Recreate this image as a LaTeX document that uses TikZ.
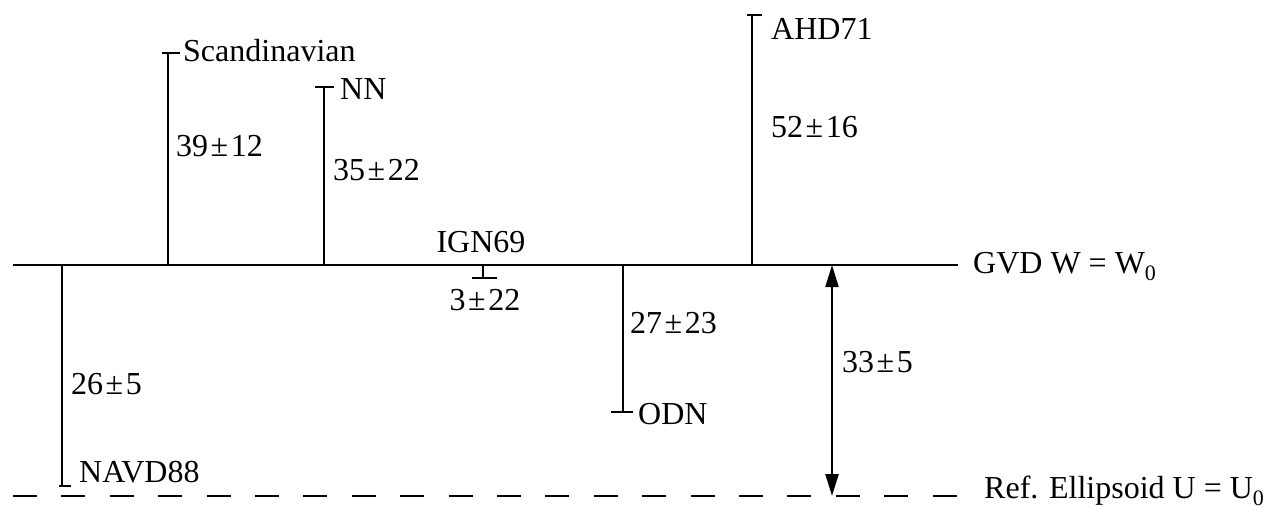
\documentclass[tikz,border=0pt]{standalone}
\usepackage{fontspec}
\setmainfont{Liberation Serif}
\usetikzlibrary{arrows.meta}
\newcommand{\lowsub}[1]{\raisebox{-7pt}{\fontsize{22}{22}\selectfont #1}}
\newcommand{\pmv}{\kern2.5pt±\kern2.5pt}
\begin{document}
\begin{tikzpicture}[x=1pt,y=-1pt,
  lbl/.style={font=\fontsize{32}{38}\selectfont, inner sep=0pt, anchor=base west},
  clbl/.style={font=\fontsize{32}{38}\selectfont, inner sep=0pt, anchor=base},
  level/.style={line width=2.8pt},
  bar/.style={line width=2.4pt},
  tickmark/.style={line width=2.8pt},
  dim/.style={line width=2.4pt, {Triangle[length=22pt,width=13pt]}-{Triangle[length=22pt,width=13pt]}}]
\useasboundingbox (0,0) rectangle (1268,515);

% reference levels
\coordinate (gl) at (13,265); \coordinate (gr) at (958,265);
\coordinate (el) at (13,496); \coordinate (er) at (958,496);
\draw[level] (gl) -- (gr);
\draw[level, dash pattern=on 24pt off 24.4pt] (el) -- (er);
\node[lbl] (gvd) at (973,273) {GVD W = W\lowsub{0}};
\node[lbl] (ref) at (984,498) {Ref. Ellipsoid U = U\lowsub{0}};

% Scandinavian
\coordinate (s0) at (168,265); \coordinate (s1) at (168,53);
\coordinate (s1a) at (162,53); \coordinate (s1b) at (180,53);
\draw[bar] (s0) -- (s1);
\draw[tickmark] (s1a) -- (s1b);
\node[lbl] (scand) at (183,61) {Scandinavian};
\node[lbl] (scandv) at (176,156) {39\pmv12};

% NN
\coordinate (n0) at (324,265); \coordinate (n1) at (324,87);
\coordinate (n1a) at (315,87); \coordinate (n1b) at (334,87);
\draw[bar] (n0) -- (n1);
\draw[tickmark] (n1a) -- (n1b);
\node[lbl] (nn) at (340,99) {NN};
\node[lbl] (nnv) at (333,180) {35\pmv22};

% IGN69
\coordinate (i0) at (483,265); \coordinate (i1) at (483,278);
\coordinate (i1a) at (472,278); \coordinate (i1b) at (497,278);
\draw[bar] (i0) -- (i1);
\draw[tickmark] (i1a) -- (i1b);
\node[clbl] (ign) at (481,252) {IGN69};
\node[clbl] (ignv) at (485,310) {3\pmv22};

% ODN
\coordinate (o0) at (623,265); \coordinate (o1) at (623,412);
\coordinate (o1a) at (611,412); \coordinate (o1b) at (633,412);
\draw[bar] (o0) -- (o1);
\draw[tickmark] (o1a) -- (o1b);
\node[lbl] (odn) at (638,424) {ODN};
\node[lbl] (odnv) at (630,333) {27\pmv23};

% AHD71
\coordinate (a0) at (752,265); \coordinate (a1) at (752,15);
\coordinate (a1a) at (747,15); \coordinate (a1b) at (762,15);
\draw[bar] (a0) -- (a1);
\draw[tickmark] (a1a) -- (a1b);
\node[lbl] (ahd) at (771,39) {AHD71};
\node[lbl] (ahdv) at (771,137) {52\pmv16};

% NAVD88
\coordinate (v0) at (62,265); \coordinate (v1) at (62,486);
\coordinate (v1a) at (59,486); \coordinate (v1b) at (71,486);
\draw[bar] (v0) -- (v1);
\draw[tickmark] (v1a) -- (v1b);
\node[lbl] (navd) at (79,482) {NAVD88};
\node[lbl] (navdv) at (71,394) {26\pmv5};

% separation GVD - ellipsoid
\coordinate (d0) at (832,265); \coordinate (d1) at (832,496);
\draw[dim] (d0) -- (d1);
\node[lbl] (sep) at (842,372) {33\pmv5};
\end{tikzpicture}
\end{document}
